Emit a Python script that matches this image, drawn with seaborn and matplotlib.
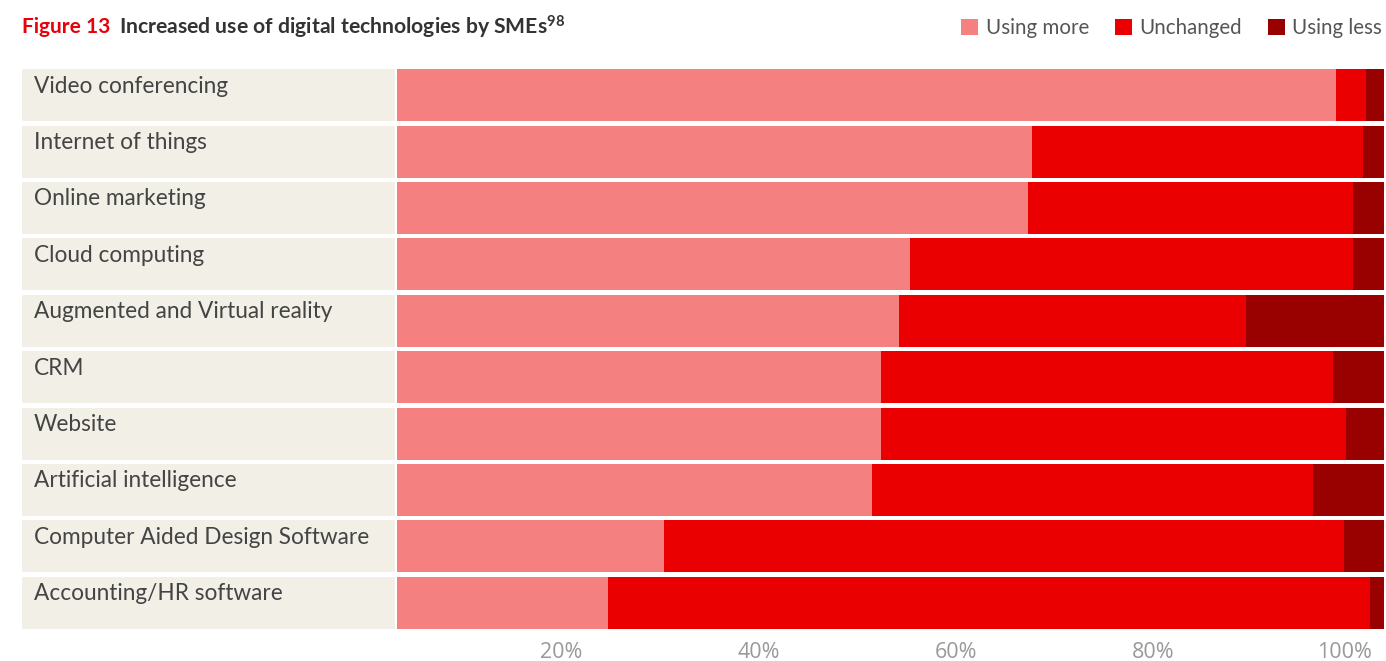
import matplotlib
matplotlib.use("Agg")
import matplotlib.pyplot as plt
import matplotlib.transforms as mtransforms
from matplotlib.patches import Patch, Rectangle
import pandas as pd
import seaborn as sns

# data (percent of SMEs)
technologies = [
    "Video conferencing",
    "Internet of things",
    "Online marketing",
    "Cloud computing",
    "Augmented and Virtual reality",
    "CRM",
    "Website",
    "Artificial intelligence",
    "Computer Aided Design Software",
    "Accounting/HR software",
]
using_more = [95.1, 64.3, 63.9, 52.0, 50.9, 49.0, 49.0, 48.1, 27.1, 21.4]
unchanged = [3.1, 33.6, 33.0, 44.9, 35.1, 45.8, 47.1, 44.7, 68.8, 77.2]
using_less = [1.8, 2.1, 3.1, 3.1, 14.0, 5.2, 3.9, 7.2, 4.1, 1.4]
series_names = ["Using more", "Unchanged", "Using less"]
tick_values = [20, 40, 60, 80, 100]

colors = {"Using more": "#F48080", "Unchanged": "#EA0000", "Using less": "#990000"}
label_bg = "#F2EFE7"
text_grey = "#444444"

df = pd.DataFrame({
    "tech": technologies,
    "more": using_more,
    "unchanged": unchanged,
    "less": using_less,
})
df["cum_more"] = df["more"]
df["cum_unch"] = df["more"] + df["unchanged"]
df["cum_all"] = df["cum_unch"] + df["less"]

sns.set_style("white")
plt.rcParams["font.family"] = ["Lato", "DejaVu Sans"]
plt.rcParams["mathtext.default"] = "regular"

W, H = 1386, 661
fig = plt.figure(figsize=(W / 100, H / 100), dpi=100)
ax = fig.add_axes([397 / W, 1 - 631 / H, 987 / W, (631 - 67) / H])

# stacked bars: draw cumulative totals back to front
for col, name in [("cum_all", "Using less"), ("cum_unch", "Unchanged"), ("cum_more", "Using more")]:
    sns.barplot(data=df, x=col, y="tech", orient="h", color=colors[name],
                saturation=1, width=0.92, ax=ax, linewidth=0, errorbar=None)

ax.set_xlim(0, df["cum_all"].max())
ax.set_ylim(len(technologies) - 0.5, -0.5)
ax.set_xlabel("")
ax.set_ylabel("")
ax.set_yticks([])
sns.despine(ax=ax, left=True, bottom=True)

# label column
trans = ax.get_yaxis_transform()
x0 = (22 - 397) / 987
x1 = (395 - 397) / 987
for i, name in enumerate(technologies):
    ax.add_patch(Rectangle((x0, i - 0.46), x1 - x0, 0.92, transform=trans,
                           facecolor=label_bg, edgecolor="none", clip_on=False))
    ax.text((34 - 397) / 987, i - 0.16, name, transform=trans, ha="left", va="center",
            fontsize=16.3, color=text_grey)

# x ticks, labels set to the left of the tick
ax.set_xticks(tick_values)
ax.set_xticklabels([f"{v}%" for v in tick_values], fontsize=15.5, color="#999999",
                   fontfamily=["Open Sans", "DejaVu Sans"])
ax.tick_params(axis="x", length=0, pad=8)
offset = mtransforms.ScaledTranslation(-12 / 100, 0, fig.dpi_scale_trans)
for lab in ax.get_xticklabels():
    lab.set_horizontalalignment("right")
    lab.set_transform(lab.get_transform() + offset)

# title
fig.text(22 / W, 1 - 27 / H, "Figure 13", color="#E8000B", fontsize=15,
         fontweight="bold", va="center", ha="left")
fig.text(119 / W, 1 - 27 / H, r"Increased use of digital technologies by SMEs$^{98}$",
         color="#333333", fontsize=15.2, fontweight="bold", va="center", ha="left")

# legend
handles = [Patch(facecolor=colors[n], edgecolor="none", label=n) for n in series_names]
fig.legend(handles=handles, loc="center right", bbox_to_anchor=(1382 / W, 1 - 28 / H),
           ncol=3, frameon=False, fontsize=14.8, handlelength=0.85, handleheight=0.85,
           handletextpad=0.35, columnspacing=1.25, labelcolor="#555555",
           borderaxespad=0, borderpad=0)

fig.savefig("out.png", dpi=100)
